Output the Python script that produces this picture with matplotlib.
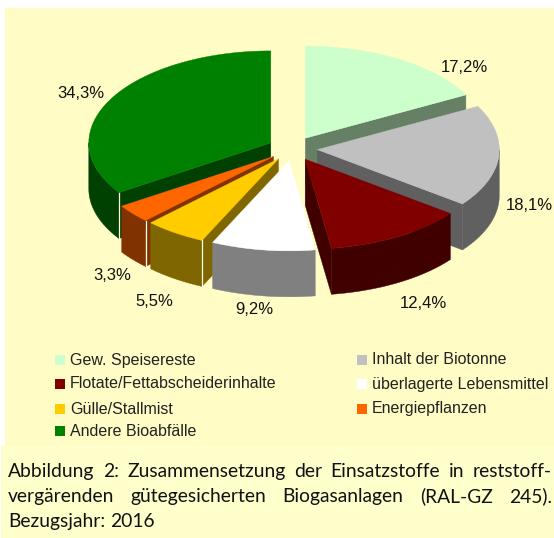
import numpy as np
import matplotlib
matplotlib.use("Agg")
import matplotlib.pyplot as plt
from matplotlib.patches import Polygon, Rectangle

categories = ["Gew. Speisereste", "Inhalt der Biotonne", "Flotate/Fettabscheiderinhalte",
              "überlagerte Lebensmittel", "Gülle/Stallmist", "Energiepflanzen", "Andere Bioabfälle"]
values = [17.2, 18.1, 12.4, 9.2, 5.5, 3.3, 34.3]
top_colors = ["#CCFFCC", "#C0C0C0", "#800000", "#FFFFFF", "#FFCC00", "#FF6600", "#008000"]
side_colors = ["#668066", "#606060", "#400000", "#808080", "#806600", "#803300", "#004000"]
caption = ["Abbildung 2: Zusammensetzung der Einsatzstoffe in reststoff-",
           "vergärenden gütegesicherten Biogasanlagen (RAL-GZ 245).",
           "Bezugsjahr: 2016"]

# pixel layout of the drawing
cx, cy = 292.6, 148.7
rx, ry_back, ry_front = 182, 92, 90
explode = 0.136
depth = 46
label_pos = [(464, 68), (529, 205), (423, 303), (254, 309), (154, 301), (112, 275), (81, 93)]
draw_order = [0, 6, 1, 5, 2, 4, 3]
legend_rows = [360, 384, 409, 431]
legend_cols = [55, 357]

fig = plt.figure(figsize=(5.54, 5.38), dpi=100)
ax = fig.add_axes([0, 0, 1, 1])
ax.set_xlim(0, 554)
ax.set_ylim(538, 0)
ax.axis("off")

ax.add_patch(Rectangle((5, 8), 549, 440, fc="#FFFCC5", ec="none", zorder=0))
ax.add_patch(Rectangle((1, 446), 553, 92, fc="#FFFFCC", ec="none", zorder=0))

edges = np.r_[0, np.cumsum(values)] / 100 * 2 * np.pi


def arc(a, b, x0, y0, n=60):
    t = np.linspace(a, b, n)
    c = np.cos(t)
    return np.c_[x0 + rx * np.sin(t), y0 - np.where(c > 0, ry_back, ry_front) * c]


for i in draw_order:
    a, b = edges[i], edges[i + 1]
    mid = (a + b) / 2
    x0 = cx + explode * rx * np.sin(mid)
    y0 = cy - explode * ry_front * np.cos(mid)
    apex = np.array([[x0, y0]])
    down = np.array([0, depth])
    pts = arc(a, b, x0, y0)

    # radial faces that look towards the viewer
    if np.sin(a) < 0:
        q = np.vstack([apex, pts[:1], pts[:1] + down, apex + down])
        ax.add_patch(Polygon(q, fc=side_colors[i], ec=side_colors[i], lw=0.3, zorder=2))
    if np.sin(b) > 0:
        q = np.vstack([apex, pts[-1:], pts[-1:] + down, apex + down])
        ax.add_patch(Polygon(q, fc=side_colors[i], ec=side_colors[i], lw=0.3, zorder=2))

    # outer band, front half only
    lo, hi = max(a, np.pi / 2), min(b, 3 * np.pi / 2)
    if hi > lo:
        band = arc(lo, hi, x0, y0)
        q = np.vstack([band, band[::-1] + down])
        ax.add_patch(Polygon(q, fc=side_colors[i], ec=side_colors[i], lw=0.3, zorder=2))

    ax.add_patch(Polygon(np.vstack([apex, pts]), fc=top_colors[i], ec=top_colors[i], lw=0.3, zorder=2))

    # thin light line on the corner where a radial face meets the band
    if np.sin(a) < 0:
        ax.plot([pts[0, 0]] * 2, [pts[0, 1], pts[0, 1] + depth], color="#FFFFE8", lw=0.9, zorder=2)

for p, v in zip(label_pos, values):
    ax.text(p[0], p[1], f"{v:.1f}%".replace(".", ","), ha="center", va="center",
            family="Liberation Sans", fontsize=12, color="#111111", zorder=3)

for i, name in enumerate(categories):
    x = legend_cols[i % 2]
    y = legend_rows[i // 2]
    ax.add_patch(Rectangle((x, y - 5), 10, 10, fc=top_colors[i], ec="none", zorder=3))
    ax.text(x + 15, y, name, ha="left", va="center", family="Liberation Sans",
            fontsize=11.5, color="#222222", zorder=3)

# caption, first two lines justified by hand
renderer = fig.canvas.get_renderer()
left, right = 8, 552
for line, base in zip(caption, [477, 502, 527]):
    words = line.split(" ")
    items = [ax.text(0, base, w, ha="left", va="baseline", family="Lato", fontsize=13.9,
                     color="#111111", zorder=3) for w in words]
    if line is caption[-1]:
        gap = 5
    else:
        widths = [t.get_window_extent(renderer).width for t in items]
        gap = (right - left - sum(widths)) / (len(words) - 1)
    x = left
    for t in items:
        t.set_x(x)
        x += t.get_window_extent(renderer).width + gap

fig.savefig("out.png", dpi=100, facecolor="white")
